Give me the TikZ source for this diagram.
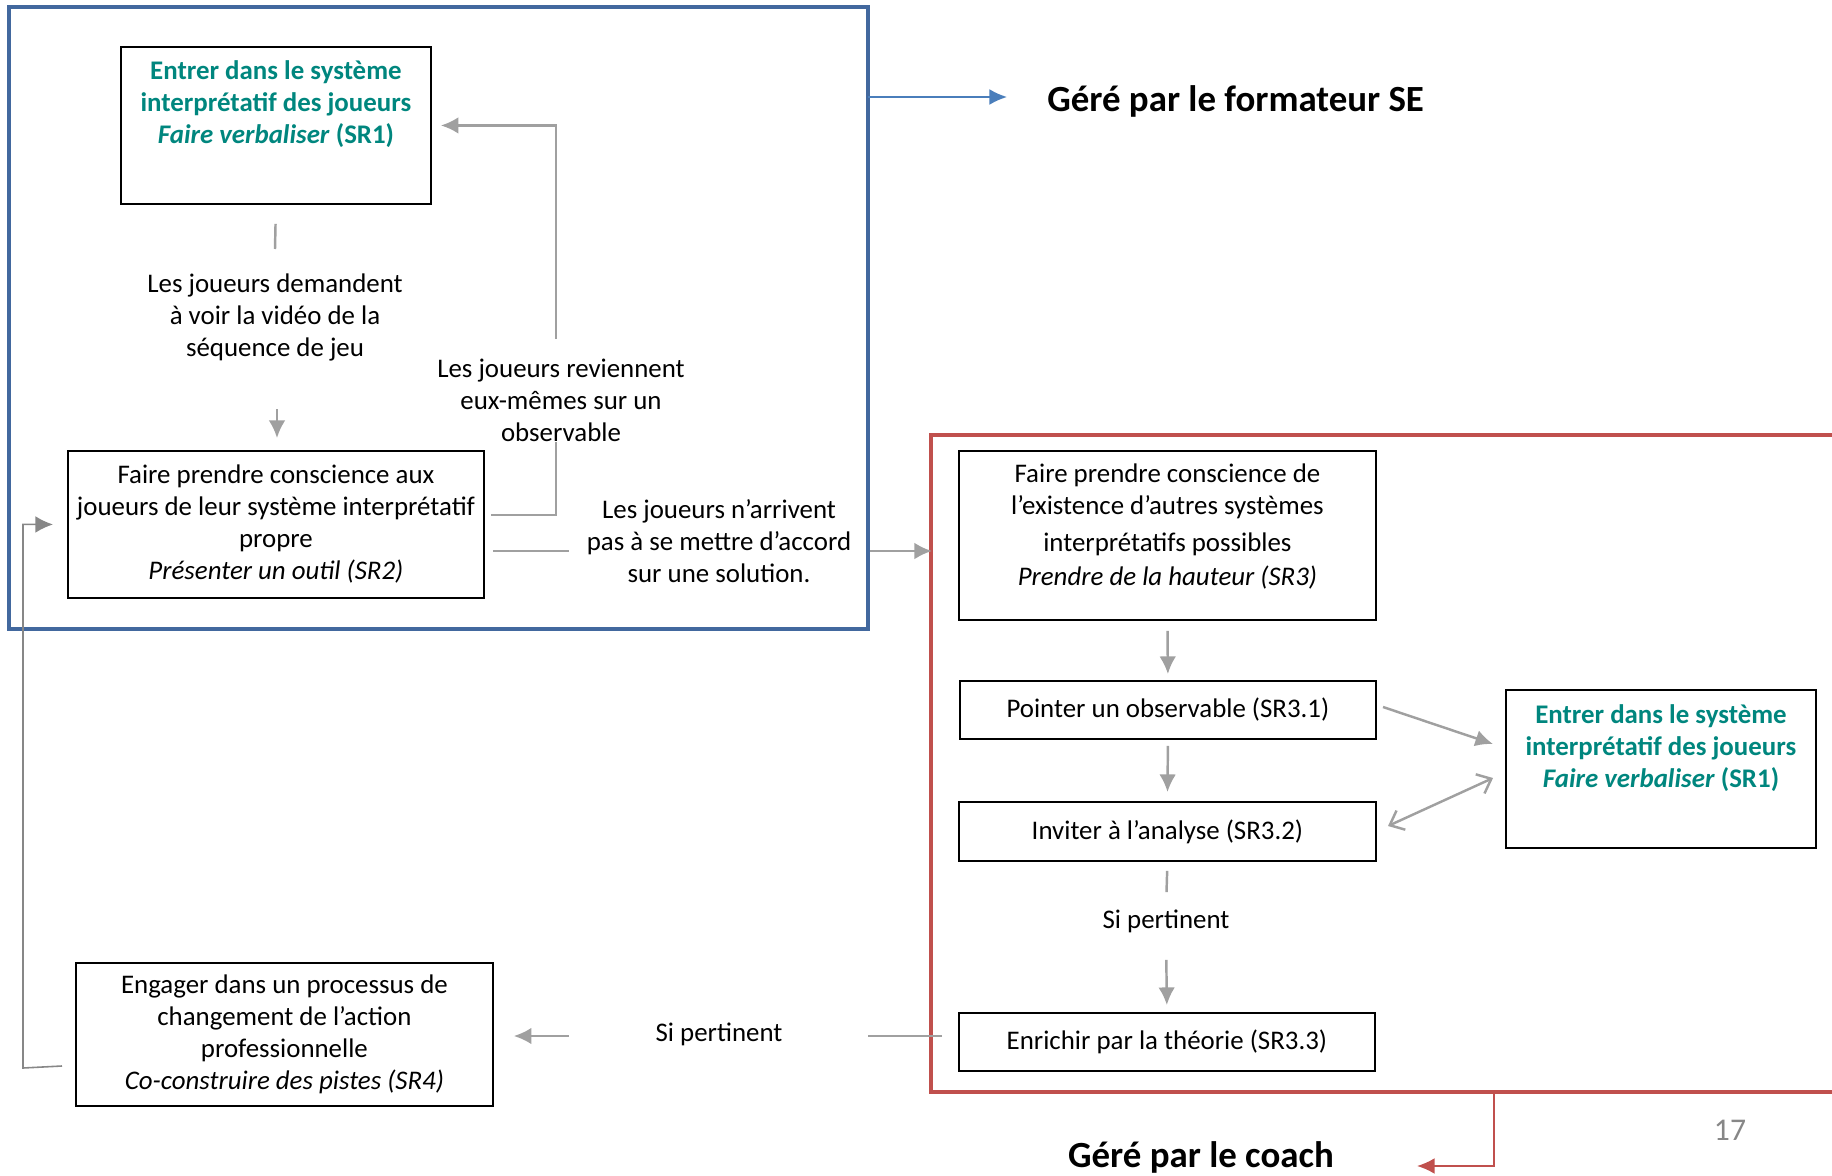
\documentclass[tikz,border=0pt]{standalone}
\usepackage{fontspec}
\setmainfont{Carlito}
\usepackage{tikz}
\usetikzlibrary{arrows.meta,positioning,calc}
\definecolor{sarcelle}{RGB}{0,134,126}
\definecolor{grisfleche}{RGB}{160,160,160}
\definecolor{grisretour}{RGB}{135,135,135}
\definecolor{bleucadre}{RGB}{66,104,158}
\definecolor{bleufleche}{RGB}{74,126,187}
\definecolor{rougecadre}{RGB}{192,80,77}
\def\corps{\fontsize{15.3}{18.2}\selectfont}
\def\gros{\fontsize{21}{24}\selectfont\bfseries}

\begin{document}
\begin{tikzpicture}[x=0.02cm,y=-0.02cm]
\tikzstyle{fleche}=[-{Latex[length=10pt,width=9.5pt]},grisfleche,line width=1.4pt]
\tikzstyle{doublefleche}=[{Straight Barb[length=7pt,width=12pt]}-{Straight Barb[length=7pt,width=12pt]},grisfleche,line width=1.4pt]
\tikzstyle{trait}=[grisfleche,line width=1.4pt]
\tikzstyle{boite}=[draw=black,line width=1.1pt,align=center,anchor=north west,inner sep=0pt,font=\corps]
\tikzstyle{etiquette}=[align=center,inner sep=0pt,font=\corps]
\tikzstyle{cadre}=[line width=2.4pt]
\useasboundingbox (0,0) rectangle (1832,1176);
\draw[cadre,bleucadre] (9,7) rectangle (868,629);
\draw[cadre,rougecadre] (931,435) rectangle (1850,1092);
\node[boite,minimum width=6.2cm,minimum height=3.14cm,text=sarcelle,font=\corps\bfseries] (SRun) at (120,46) {Entrer dans le système\\interprétatif des joueurs\\\textit{Faire verbaliser} (SR1)\\[8pt]\mbox{}};
\node[boite,minimum width=8.32cm,minimum height=2.94cm] (SRdeux) at (67,450) {Faire prendre conscience aux\\joueurs de leur système interprétatif\\propre\\\textit{Présenter un outil (SR2)}};
\node[boite,minimum width=8.34cm,minimum height=3.38cm] (SRtrois) at (958,450) {Faire prendre conscience de\\l’existence d’autres systèmes\\[2.8pt]interprétatifs possibles\\[1pt]\textit{Prendre de la hauteur (SR3)}\\[-6pt]\mbox{}};
\node[boite,minimum width=8.32cm,minimum height=1.16cm] (SRtroisun) at (959,680) {Pointer un observable (SR3.1)};
\node[boite,minimum width=8.34cm,minimum height=1.18cm] (SRtroisdeux) at (958,801) {Inviter à l’analyse (SR3.2)};
\node[boite,minimum width=8.32cm,minimum height=1.16cm] (SRtroistrois) at (958,1012) {Enrichir par la théorie (SR3.3)};
\node[boite,minimum width=6.2cm,minimum height=3.16cm,text=sarcelle,font=\corps\bfseries] (SRunb) at (1505,689) {Entrer dans le système\\interprétatif des joueurs\\\textit{Faire verbaliser} (SR1)\\[8pt]\mbox{}};
\node[boite,minimum width=8.34cm,minimum height=2.86cm] (SRquatre) at (75,962) {Engager dans un processus de\\changement de l’action\\professionnelle\\\textit{Co-construire des pistes (SR4)}};
\node[etiquette] (demande) at (275,317) {Les joueurs demandent\\à voir la vidéo de la\\séquence de jeu};
\node[etiquette] (reviennent) at (561,400) {Les joueurs reviennent\\eux-mêmes sur un\\observable};
\node[etiquette] (accord) at (719,541) {Les joueurs n’arrivent\\pas à se mettre d’accord\\sur une solution.};
\node[etiquette] (pertinentA) at (1166,921) {Si pertinent};
\node[etiquette] (pertinentB) at (719,1034) {Si pertinent};
\node[anchor=west,inner sep=0pt,font=\gros] (formateur) at (1047,101) {Géré par le formateur SE};
\node[inner sep=0pt,font=\gros] (coach) at (1201,1157) {Géré par le coach};
\node[inner sep=0pt,font=\fontsize{18}{20}\selectfont,text=grisretour] (page) at (1730,1130) {17};
\coordinate (a1) at (275,249);
\coordinate (a2) at (277,409);
\coordinate (b1) at (491,515);
\coordinate (b2) at (556,442);
\coordinate (b3) at (556,339);
\coordinate (c2) at (569,551);
\coordinate (c3) at (870,551);
\coordinate (c4) at (932,551);
\coordinate (g1) at (1383,707);
\coordinate (g2) at (1493,744);
\coordinate (g3) at (1388,826);
\coordinate (g4) at (1493,778);
\coordinate (i1) at (942,1036);
\coordinate (i2) at (868,1036);
\coordinate (i3) at (569,1036);
\coordinate (j1) at (62,1066);
\coordinate (j2) at (23,1068);
\coordinate (k1) at (868,97);
\coordinate (k2) at (1007,97);
\coordinate (m1) at (1494,1092);
\coordinate (m2) at (1417,1166);
\draw[trait,shorten <=0.38cm] (SRun.south) -- (a1);
\draw[fleche,shorten >=0.24cm] (a2) -- (SRdeux.north -| a2);
\draw[trait] (b1) -| (b2);
\draw[fleche,shorten >=0.18cm] (b3) |- (SRun.east);
\draw[trait,shorten <=0.16cm] (SRdeux.east |- c2) -- (c2);
\draw[fleche] (c3) -- (c4);
\draw[fleche,shorten <=0.2cm,shorten >=0.12cm] (SRtrois.south) -- (SRtroisun.north);
\draw[fleche,shorten <=0.12cm,shorten >=0.18cm] (SRtroisun.south) -- (SRtroisdeux.north);
\draw[trait,shorten <=0.18cm,shorten >=0.34cm] (SRtroisdeux.south) -- (pertinentA.north);
\draw[fleche,shorten <=0.54cm,shorten >=0.14cm] (pertinentA.south) -- (SRtroistrois.north);
\draw[fleche] (g1) -- (g2);
\draw[doublefleche] (g3) -- (g4);
\draw[trait] (i1) -- (i2);
\draw[fleche,shorten >=0.4cm] (i3) -- (SRquatre.east |- i3);
\draw[fleche,grisretour,line width=0.9pt,shorten >=0.28cm] (j1) -- (j2) |- (SRdeux.west);
\draw[-{Latex[length=10pt,width=9pt]},bleufleche,line width=1pt] (k1) -- (k2);
\draw[-{Latex[length=10pt,width=9pt]},rougecadre,line width=1.1pt] (m1) |- (m2);
\end{tikzpicture}
\end{document}
